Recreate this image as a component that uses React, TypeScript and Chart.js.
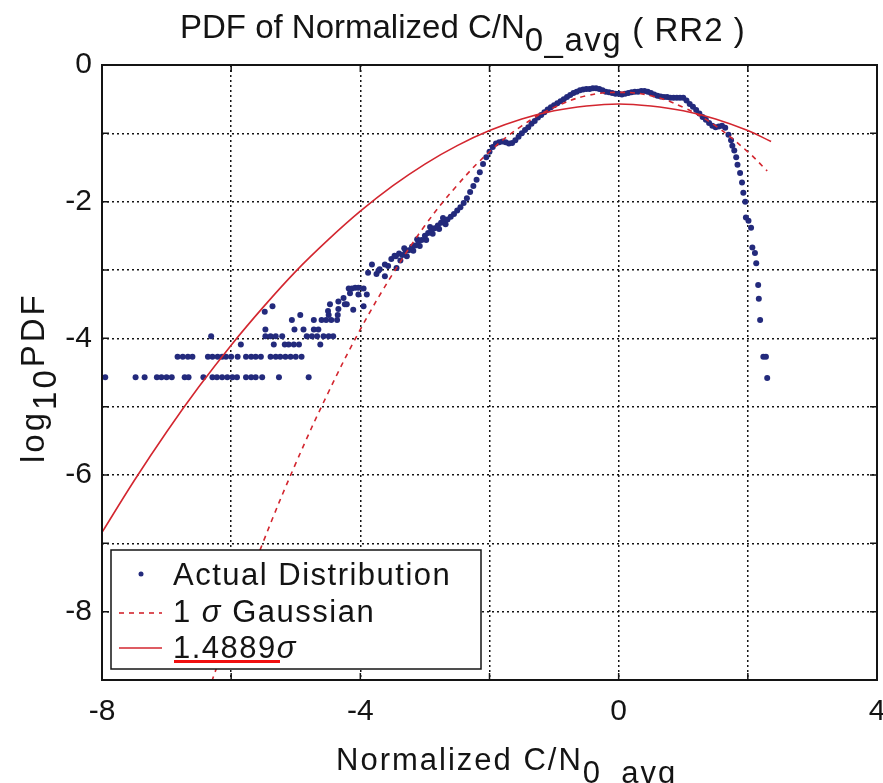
import React, { useEffect, useRef } from 'react';
import { Chart, registerables } from 'chart.js';
Chart.register(...registerables);

// ---------- data ----------
const xTickLabels = [-8, -4, 0, 4];
const yTickLabels = [0, -2, -4, -6, -8];

const legendLabels = ['Actual Distribution', '1 σ Gaussian', '1.4889σ'];

// sparse low-count rows of the empirical PDF
const rowLevel1X = [-7.95, -7.48, -7.34, -7.15, -7.08, -7.0, -6.92, -6.72, -6.66, -6.43, -6.29, -6.22, -6.14, -6.06, -5.98, -5.91, -5.77, -5.69, -5.62, -5.52, -5.26, -4.8];
const rowLevel2X = [-6.83, -6.75, -6.67, -6.6, -6.36, -6.29, -6.21, -6.14, -6.08, -6.0, -5.9, -5.77, -5.69, -5.62, -5.54, -5.39, -5.31, -5.24, -5.16, -5.08, -5.0, -4.91];
const rowLevel3X = [-5.85, -5.34, -5.17, -5.11, -5.03, -4.95, -4.62];
const rowLevel4X = [-6.31, -5.47, -5.39, -5.31, -5.21, -4.83, -4.75, -4.67, -4.57, -4.49, -4.42];
const rowLevel5X = [-5.47, -5.02, -4.88, -4.72, -4.65];
const rowLevel7X = [-5.06, -4.72, -4.6, -4.53, -4.45, -4.36];
const rowLevelY = [-4.57, -4.27, -4.09, -3.97, -3.87, -3.73];

// scattered points between the sparse rows and the dense band
const scatterPoints: [number, number][] = [
  [-4.93, -3.66], [-4.49, -3.66], [-4.35, -3.66], [-4.5, -3.6], [-4.34, -3.57],
  [-4.47, -3.5], [-4.24, -3.5], [-5.48, -3.61], [-5.36, -3.53], [-4.26, -3.41],
  [-4.18, -3.27], [-4.13, -3.27], [-4.08, -3.26], [-4.03, -3.26], [-3.95, -3.27],
  [-4.16, -3.34], [-4.03, -3.36], [-3.9, -3.36], [-4.11, -3.58], [-3.95, -3.53],
  [-4.34, -3.46], [-4.21, -3.5], [-3.88, -3.04], [-3.82, -2.92], [-3.75, -3.06],
  [-3.7, -2.99], [-3.62, -3.09], [-3.57, -2.94], [-3.52, -2.84], [-3.47, -2.79],
  [-3.44, -2.97], [-3.72, -3.01], [-3.62, -2.92], [-3.38, -2.86], [-3.28, -2.8],
  [-3.18, -2.72], [-3.08, -2.65], [-2.98, -2.56], [-2.88, -2.47], [-2.78, -2.4],
  [-2.68, -2.33], [-3.32, -2.68], [-3.12, -2.55], [-2.92, -2.37], [-2.72, -2.24],
];

// dense band of the empirical PDF
const denseX = [
  -3.45, -3.4, -3.35, -3.3, -3.25, -3.2, -3.15, -3.1, -3.05, -3.0, -2.95, -2.9, -2.85, -2.8, -2.75, -2.7,
  -2.65, -2.6, -2.55, -2.5, -2.45, -2.4, -2.35, -2.3, -2.25, -2.2, -2.15, -2.1, -2.05, -2.0, -1.95, -1.9,
  -1.85, -1.8, -1.75, -1.7, -1.65, -1.6, -1.55, -1.5, -1.45, -1.4, -1.35, -1.3, -1.25, -1.2, -1.15, -1.1,
  -1.05, -1.0, -0.95, -0.9, -0.85, -0.8, -0.75, -0.7, -0.65, -0.6, -0.55, -0.5, -0.45, -0.4, -0.35, -0.3,
  -0.25, -0.2, -0.15, -0.1, -0.05, 0.0, 0.05, 0.1, 0.15, 0.2, 0.25, 0.3, 0.35, 0.4, 0.45, 0.5,
  0.55, 0.6, 0.65, 0.7, 0.75, 0.8, 0.85, 0.9, 0.95, 1.0, 1.05, 1.1, 1.15, 1.2, 1.25, 1.3,
  1.35, 1.4, 1.45, 1.5, 1.55, 1.6, 1.65, 1.7,
  1.74, 1.76, 1.79, 1.82, 1.84, 1.88, 1.91, 1.93, 1.96, 1.97, 2.01, 2.05, 2.07, 2.11, 2.13, 2.16,
  2.17, 2.19, 2.24, 2.28, 2.3,
];
const denseY = [
  -2.8, -2.76, -2.78, -2.72, -2.71, -2.66, -2.64, -2.58, -2.56, -2.5, -2.46, -2.41, -2.39, -2.35, -2.31, -2.28,
  -2.26, -2.22, -2.18, -2.13, -2.08, -2.02, -1.95, -1.86, -1.77, -1.68, -1.57, -1.45, -1.35, -1.27, -1.2, -1.15,
  -1.13, -1.12, -1.13, -1.15, -1.14, -1.1, -1.05, -1.0, -0.95, -0.91, -0.86, -0.82, -0.77, -0.73, -0.69, -0.65,
  -0.62, -0.59, -0.56, -0.53, -0.5, -0.47, -0.44, -0.41, -0.39, -0.37, -0.36, -0.35, -0.35, -0.34, -0.34, -0.35,
  -0.37, -0.39, -0.4, -0.41, -0.42, -0.42, -0.43, -0.42, -0.41, -0.4, -0.39, -0.39, -0.38, -0.38, -0.39, -0.41,
  -0.43, -0.45, -0.46, -0.47, -0.47, -0.48, -0.48, -0.48, -0.48, -0.48, -0.52, -0.57, -0.61, -0.66, -0.71, -0.76,
  -0.8, -0.85, -0.89, -0.91, -0.9, -0.89, -0.92, -1.02,
  -1.1, -1.18, -1.25, -1.35, -1.46, -1.58, -1.72, -1.87, -2.0, -2.23, -2.28, -2.38, -2.67, -2.75, -2.9, -3.22,
  -3.42, -3.73, -4.27, -4.27, -4.58,
];

// 1 sigma Gaussian (dashed)
const gauss1X = [-6.3, -6.0, -5.5, -5.0, -4.5, -4.0, -3.5, -3.0, -2.5, -2.0, -1.5, -1.0, -0.5, 0.0, 0.5, 1.0, 1.5, 2.0, 2.3];
const gauss1Y = [-9.02, -8.22, -6.97, -5.83, -4.8, -3.87, -3.06, -2.35, -1.76, -1.27, -0.89, -0.62, -0.45, -0.4, -0.45, -0.62, -0.89, -1.27, -1.55];

// 1.4889 sigma Gaussian (solid)
const gauss2X = [-8.0, -7.5, -7.0, -6.5, -6.0, -5.5, -5.0, -4.5, -4.0, -3.5, -3.0, -2.5, -2.0, -1.5, -1.0, -0.5, 0.0, 0.5, 1.0, 1.5, 2.0, 2.36];
const gauss2Y = [-6.84, -6.08, -5.37, -4.71, -4.1, -3.54, -3.02, -2.56, -2.14, -1.77, -1.45, -1.18, -0.96, -0.79, -0.67, -0.6, -0.57, -0.6, -0.67, -0.79, -0.96, -1.12];

// ---------- styles ----------
const NAVY = '#232a7c';
const RED = '#d3262f';
const INK = '#141414';
const FONT = "'Liberation Sans', Arial, sans-serif";

type Part = { text: string; size: number; dy?: number; ls?: number; italic?: boolean };

function drawRich(ctx: CanvasRenderingContext2D, parts: Part[], x: number, y: number) {
  let cx = x;
  for (const p of parts) {
    ctx.font = `${p.italic ? 'italic ' : ''}${p.size}px ${FONT}`;
    (ctx as any).letterSpacing = `${p.ls ?? 0}px`;
    ctx.fillText(p.text, cx, y + (p.dy ?? 0));
    cx += ctx.measureText(p.text).width;
  }
  (ctx as any).letterSpacing = '0px';
}

const decorPlugin = {
  id: 'decor',
  afterDatasetsDraw(chart: any) {
    const { ctx, chartArea: a, scales } = chart;
    ctx.save();
    ctx.setLineDash([]);
    ctx.strokeStyle = INK;
    // frame
    ctx.lineWidth = 2;
    ctx.strokeRect(a.left, a.top, a.right - a.left, a.bottom - a.top);
    // inward tick marks
    const tl = 7;
    ctx.lineWidth = 1.5;
    ctx.beginPath();
    scales.x.ticks.forEach((t: any) => {
      const px = scales.x.getPixelForValue(t.value);
      ctx.moveTo(px, a.bottom); ctx.lineTo(px, a.bottom - tl);
      ctx.moveTo(px, a.top); ctx.lineTo(px, a.top + tl);
    });
    scales.y.ticks.forEach((t: any) => {
      const py = scales.y.getPixelForValue(t.value);
      ctx.moveTo(a.left, py); ctx.lineTo(a.left + tl, py);
      ctx.moveTo(a.right, py); ctx.lineTo(a.right - tl, py);
    });
    ctx.stroke();

    // legend box
    const lx = 111, ly = 550, lw = 370, lh = 119;
    ctx.fillStyle = '#ffffff';
    ctx.fillRect(lx, ly, lw, lh);
    ctx.lineWidth = 1.5;
    ctx.strokeStyle = INK;
    ctx.strokeRect(lx, ly, lw, lh);
    const ds = chart.data.datasets;
    // row 1: dot
    ctx.fillStyle = ds[0].pointBackgroundColor;
    ctx.beginPath(); ctx.arc(141, 574, 2.5, 0, Math.PI * 2); ctx.fill();
    // row 2: dashed
    ctx.strokeStyle = ds[1].borderColor;
    ctx.lineWidth = ds[1].borderWidth;
    ctx.setLineDash(ds[1].borderDash);
    ctx.beginPath(); ctx.moveTo(119, 613); ctx.lineTo(162, 613); ctx.stroke();
    // row 3: solid
    ctx.setLineDash([]);
    ctx.strokeStyle = ds[2].borderColor;
    ctx.lineWidth = ds[2].borderWidth;
    ctx.beginPath(); ctx.moveTo(119, 648); ctx.lineTo(162, 648); ctx.stroke();

    ctx.fillStyle = INK;
    ctx.textBaseline = 'alphabetic';
    ctx.textAlign = 'left';
    drawRich(ctx, [{ text: ds[0].label, size: 31, ls: 1.5 }], 173, 585);
    const l2 = ds[1].label.split('σ');
    drawRich(ctx, [
      { text: l2[0], size: 31, ls: 1.5 },
      { text: 'σ', size: 31, italic: true, ls: 1.5 },
      { text: l2[1], size: 31, ls: 1.5 },
    ], 173, 622);
    const l3 = ds[2].label.split('σ');
    drawRich(ctx, [
      { text: l3[0], size: 31, ls: 1.5 },
      { text: 'σ', size: 31, italic: true, ls: 1.5 },
    ], 173, 658);
    // red underline mark
    ctx.fillStyle = '#f01010';
    ctx.fillRect(174, 660, 106, 3);
    ctx.restore();
  },
  afterDraw(chart: any) {
    const { ctx } = chart;
    ctx.save();
    ctx.fillStyle = INK;
    ctx.textBaseline = 'alphabetic';
    ctx.textAlign = 'left';
    // title
    drawRich(ctx, [
      { text: 'PDF of Normalized C/N', size: 33 },
      { text: '0_avg', size: 33, dy: 13, ls: 1.5 },
      { text: ' ( RR2 )', size: 33, dy: 3, ls: 1 },
    ], 180, 38);
    // x axis title
    drawRich(ctx, [
      { text: 'Normalized C/N', size: 31, ls: 2 },
      { text: '0_avg', size: 31, ls: 2, dy: 13 },
    ], 336, 770);
    // y axis title
    ctx.translate(44, 463);
    ctx.rotate(-Math.PI / 2);
    drawRich(ctx, [
      { text: 'log', size: 33, ls: 3 },
      { text: '10', size: 33, ls: 3, dy: 12 },
      { text: 'PDF', size: 33, ls: 3 },
    ], 0, 0);
    ctx.restore();
  },
};

export default function App() {
  const ref = useRef<HTMLCanvasElement | null>(null);
  useEffect(() => {
    if (!ref.current) return;
    const actual: { x: number; y: number }[] = [];
    const rows = [rowLevel1X, rowLevel2X, rowLevel3X, rowLevel4X, rowLevel5X, rowLevel7X];
    rows.forEach((r, i) => r.forEach((x) => actual.push({ x, y: rowLevelY[i] })));
    scatterPoints.forEach(([x, y]) => actual.push({ x, y }));
    denseX.forEach((x, i) => actual.push({ x, y: denseY[i] }));

    const chart = new Chart(ref.current, {
      type: 'scatter',
      data: {
        datasets: [
          {
            label: legendLabels[0],
            data: actual,
            pointRadius: 3,
            pointBackgroundColor: NAVY,
            pointBorderWidth: 0,
            borderColor: NAVY,
            showLine: false,
            order: 3,
          } as any,
          {
            label: legendLabels[1],
            data: gauss1X.map((x, i) => ({ x, y: gauss1Y[i] })),
            showLine: true,
            pointRadius: 0,
            borderColor: RED,
            borderWidth: 1.6,
            borderDash: [5, 5],
            tension: 0.4,
            order: 2,
          },
          {
            label: legendLabels[2],
            data: gauss2X.map((x, i) => ({ x, y: gauss2Y[i] })),
            showLine: true,
            pointRadius: 0,
            borderColor: RED,
            borderWidth: 1.6,
            tension: 0.4,
            order: 1,
          },
        ],
      },
      options: {
        animation: false,
        responsive: false,
        devicePixelRatio: 1,
        layout: { padding: { top: 65, right: 6, left: 0, bottom: 0 } },
        plugins: { legend: { display: false }, tooltip: { enabled: false }, title: { display: false } },
        scales: {
          x: {
            type: 'linear',
            min: -8,
            max: 4,
            afterFit: (s: any) => { s.height = 103; s.paddingLeft = 0; s.paddingRight = 0; },
            ticks: {
              stepSize: 2,
              autoSkip: false,
              maxRotation: 0,
              padding: 14,
              color: INK,
              font: { family: FONT, size: 30 },
              callback: (v: any) => (xTickLabels.includes(Number(v)) ? String(v) : ''),
            },
            grid: { color: INK, lineWidth: 1.5, drawTicks: false },
            border: { display: false, dash: [2, 3] },
          },
          y: {
            type: 'linear',
            min: -9,
            max: 0,
            afterFit: (s: any) => { s.width = 102; s.paddingTop = 0; s.paddingBottom = 0; },
            ticks: {
              stepSize: 1,
              autoSkip: false,
              padding: 10,
              color: INK,
              font: { family: FONT, size: 30 },
              callback: (v: any) => (yTickLabels.includes(Number(v)) ? String(v) : ''),
            },
            grid: { color: INK, lineWidth: 1.5, drawTicks: false },
            border: { display: false, dash: [2, 3] },
          },
        },
      } as any,
      plugins: [decorPlugin],
    });
    return () => chart.destroy();
  }, []);

  return (
    <div style={{ position: 'absolute', left: 0, top: 0, width: 883, height: 783, background: '#fff' }}>
      <canvas ref={ref} width={883} height={783} style={{ display: 'block' }} />
    </div>
  );
}
